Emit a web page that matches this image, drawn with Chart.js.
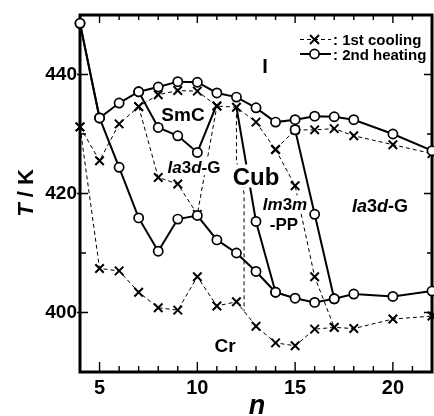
<!DOCTYPE html>
<html><head><meta charset="utf-8">
<script src="https://cdn.jsdelivr.net/npm/chart.js@4/dist/chart.umd.min.js"></script>
<style>html,body{margin:0;padding:0;overflow:hidden;background:#fff;width:434px;height:416px}canvas{display:block}</style>
</head><body>
<canvas id="c" width="440" height="416"></canvas>
<script>
// ---- data ----
const nAll = [4,5,6,7,8,9,10,11,12,13,14,15,16,17,18,20,22];
// 2nd heating (open circles, solid)
const heatClearing = [448.6,432.7,435.2,437.1,437.9,438.8,438.7,436.9,436.2,434.4,432.0,432.4,433.0,432.9,432.4,430.0,427.2];
const heatMelting  = [448.6,432.7,424.4,415.9,410.3,415.7,416.3,412.2,410.0,406.9,403.4,402.4,401.7,402.3,403.1,402.7,403.6];
const nHeatSmC = [7,8,9,10,11];
const heatSmC  = [437.1,431.1,429.7,426.9,435.0];
const nHeatCub = [12,13,14];
const heatCub  = [434.5,415.3,403.4];
const nHeatIm3m = [15,16,17];
const heatIm3m  = [430.7,416.5,402.3];
// 1st cooling (crosses, dashed)
const coolClearing = [431.2,425.5,431.7,434.6,436.6,437.3,437.2,434.7,434.5,432.0,427.4,430.7,430.7,430.9,429.7,428.2,426.7];
const coolCryst    = [431.2,407.4,407.0,403.4,400.8,400.4,406.0,401.1,401.8,397.7,394.9,394.4,397.2,397.5,397.3,398.9,399.4];
const nCoolIa3d = [7,8,9,10,11];
const coolIa3d  = [434.6,422.7,421.6,416.5,434.7];
const nCoolIm3m = [14,15,16,17];
const coolIm3m  = [427.4,421.3,406.0,397.5];
const nCoolCub = [12,12,12.39,12.39];
const coolCub  = [434.5,425.5,420.0,400.2];
// axes
const xTickLabels = [5,10,15,20];
const yTickLabels = [400,420,440];
const xRange = [4,22];
const yRange = [390,450];

const FONT = '"Liberation Sans", Arial, Helvetica, sans-serif';
const pts = (xs, ys) => xs.map((x,i)=>({x, y: ys[i]}));

const heatStyle = {borderColor:'#000', borderWidth:2, pointStyle:'circle', pointRadius:4.6,
  pointBorderWidth:1.7, pointBackgroundColor:'#fff', pointBorderColor:'#000', tension:0, clip:false, showLine:true, fill:false};
const coolStyle = {borderColor:'#000', borderWidth:1, borderDash:[4,3], pointStyle:'crossRot', pointRadius:6,
  pointBorderWidth:2, pointBackgroundColor:'#000', pointBorderColor:'#000', tension:0, clip:false, showLine:true, fill:false};

const datasets = [
  Object.assign({label:'2nd heating', data: pts(nAll, heatClearing)}, heatStyle),
  Object.assign({label:'heat melt', data: pts(nAll, heatMelting)}, heatStyle),
  Object.assign({label:'heat SmC', data: pts(nHeatSmC, heatSmC)}, heatStyle, {pointRadius: nHeatSmC.map((v,i)=> i===nHeatSmC.length-1 ? 0 : 4.6)}),
  Object.assign({label:'heat Cub', data: pts(nHeatCub, heatCub)}, heatStyle, {pointRadius: nHeatCub.map((v,i)=> i===0 ? 0 : 4.6)}),
  Object.assign({label:'heat Im3m', data: pts(nHeatIm3m, heatIm3m)}, heatStyle),
  Object.assign({label:'1st cooling', data: pts(nAll, coolClearing)}, coolStyle),
  Object.assign({label:'cool cryst', data: pts(nAll, coolCryst)}, coolStyle),
  Object.assign({label:'cool Ia3d', data: pts(nCoolIa3d, coolIa3d)}, coolStyle),
  Object.assign({label:'cool Im3m', data: pts(nCoolIm3m, coolIm3m)}, coolStyle),
  Object.assign({label:'cool Cub', data: pts(nCoolCub, coolCub)}, coolStyle, {pointRadius:0}),
];

function rich(ctx, parts, cx, cy, size, bg) {
  const ws = parts.map(([t,it]) => { ctx.font = (it?'italic ':'') + 'bold ' + size + 'px ' + FONT; return ctx.measureText(t).width; });
  const w = ws.reduce((a,b)=>a+b,0);
  let x = cx - w/2;
  if (bg) { ctx.fillStyle = '#fff'; ctx.fillRect(x-1, cy - size*0.48, w+2, size*0.96); }
  ctx.fillStyle = '#000'; ctx.textAlign = 'left'; ctx.textBaseline = 'alphabetic';
  parts.forEach(([t,it],i) => { ctx.font = (it?'italic ':'') + 'bold ' + size + 'px ' + FONT; ctx.fillText(t, x, cy + size*0.36); x += ws[i]; });
}

const deco = {
  id:'deco',
  beforeDatasetsDraw(chart) {
    const ctx = chart.ctx, a = chart.chartArea, xs = chart.scales.x, ys = chart.scales.y;
    ctx.save();
    ctx.strokeStyle = '#000';
    ctx.lineWidth = 1.4;
    ctx.beginPath();
    for (let n = Math.ceil(xs.min)+1; n < xs.max; n++) {
      const px = xs.getPixelForValue(n), major = n % 5 === 0;
      ctx.moveTo(px, a.top); ctx.lineTo(px, a.top + (major ? 8 : 5));
      ctx.moveTo(px, a.bottom); ctx.lineTo(px, a.bottom - (major ? 10 : 6));
    }
    for (let t = ys.min + 10; t < ys.max; t += 10) {
      const py = ys.getPixelForValue(t), major = yTickLabels.includes(t);
      ctx.moveTo(a.left - (major ? 3 : 0), py); ctx.lineTo(a.left + (major ? 8 : 6), py);
      ctx.moveTo(a.right, py); ctx.lineTo(a.right - (major ? 8 : 5), py);
    }
    ctx.stroke();
    ctx.lineWidth = 3;
    ctx.strokeRect(a.left, a.top, a.right - a.left, a.bottom - a.top);
    ctx.restore();
  },
  afterDatasetsDraw(chart) {
    const ctx = chart.ctx;
    ctx.save();
    rich(ctx, [['I',false]], 265, 66, 20, false);
    rich(ctx, [['SmC',false]], 183, 114, 19, true);
    rich(ctx, [['Ia',true],['3',false],['d',true],['-G',false]], 194, 167, 17, true);
    rich(ctx, [['Cub',false]], 256, 176, 24, true);
    rich(ctx, [['Im',true],['3',false],['m',true]], 285, 203.5, 17, true);
    rich(ctx, [['-PP',false]], 284, 223.5, 17, true);
    rich(ctx, [['Ia',true],['3',false],['d',true],['-G',false]], 380, 206, 18, true);
    rich(ctx, [['Cr',false]], 225, 345, 19, true);
    // legend
    ctx.strokeStyle = '#000'; ctx.fillStyle = '#000';
    ctx.lineWidth = 1; ctx.setLineDash([4,3]);
    ctx.beginPath(); ctx.moveTo(300, 39.5); ctx.lineTo(331, 39.5); ctx.stroke();
    ctx.setLineDash([]); ctx.lineWidth = 2;
    ctx.beginPath(); ctx.moveTo(310, 35); ctx.lineTo(319, 44); ctx.moveTo(319, 35); ctx.lineTo(310, 44); ctx.stroke();
    ctx.beginPath(); ctx.moveTo(300, 54); ctx.lineTo(331, 54); ctx.stroke();
    ctx.beginPath(); ctx.arc(314.5, 54, 4.6, 0, Math.PI*2); ctx.fillStyle = '#fff'; ctx.fill(); ctx.lineWidth = 1.7; ctx.stroke();
    ctx.fillStyle = '#000'; ctx.font = 'bold 15px ' + FONT; ctx.textAlign = 'left'; ctx.textBaseline = 'alphabetic';
    ctx.fillText(': 1st cooling', 333, 45);
    ctx.fillText(': 2nd heating', 333, 59.5);
    // axis titles
    ctx.save(); ctx.translate(25, 193); ctx.rotate(-Math.PI/2);
    rich(ctx, [['T',true],[' / K',false]], 0, 0, 22, false);
    ctx.restore();
    ctx.font = 'italic bold 27px ' + FONT; ctx.textAlign = 'center';
    ctx.fillText('n', 257, 414);
    ctx.restore();
  }
};

new Chart(document.getElementById('c'), {
  type: 'scatter',
  data: { datasets },
  plugins: [deco],
  options: {
    responsive: false, animation: false, devicePixelRatio: 1,
    layout: { padding: { top: 15, right: 3, left: 0, bottom: 0 } },
    plugins: { legend: { display: false }, tooltip: { enabled: false } },
    scales: {
      x: { type:'linear', min: xRange[0], max: xRange[1],
        grid: { display:false, drawTicks:false }, border: { display:false },
        afterBuildTicks: s => { s.ticks = xTickLabels.map(v => ({value: v})); },
        afterFit: s => { s.height = 44; },
        ticks: { color:'#000', padding: 4, maxRotation:0, autoSkip:false, font: { family: FONT, size: 20, weight: 'bold' } } },
      y: { type:'linear', min: yRange[0], max: yRange[1],
        grid: { display:false, drawTicks:false }, border: { display:false },
        afterBuildTicks: s => { s.ticks = yTickLabels.map(v => ({value: v})); },
        afterFit: s => { s.width = 80; },
        ticks: { color:'#000', padding: 3, autoSkip:false, font: { family: FONT, size: 19, weight: 'bold' } } }
    }
  }
});
</script>
</body></html>
